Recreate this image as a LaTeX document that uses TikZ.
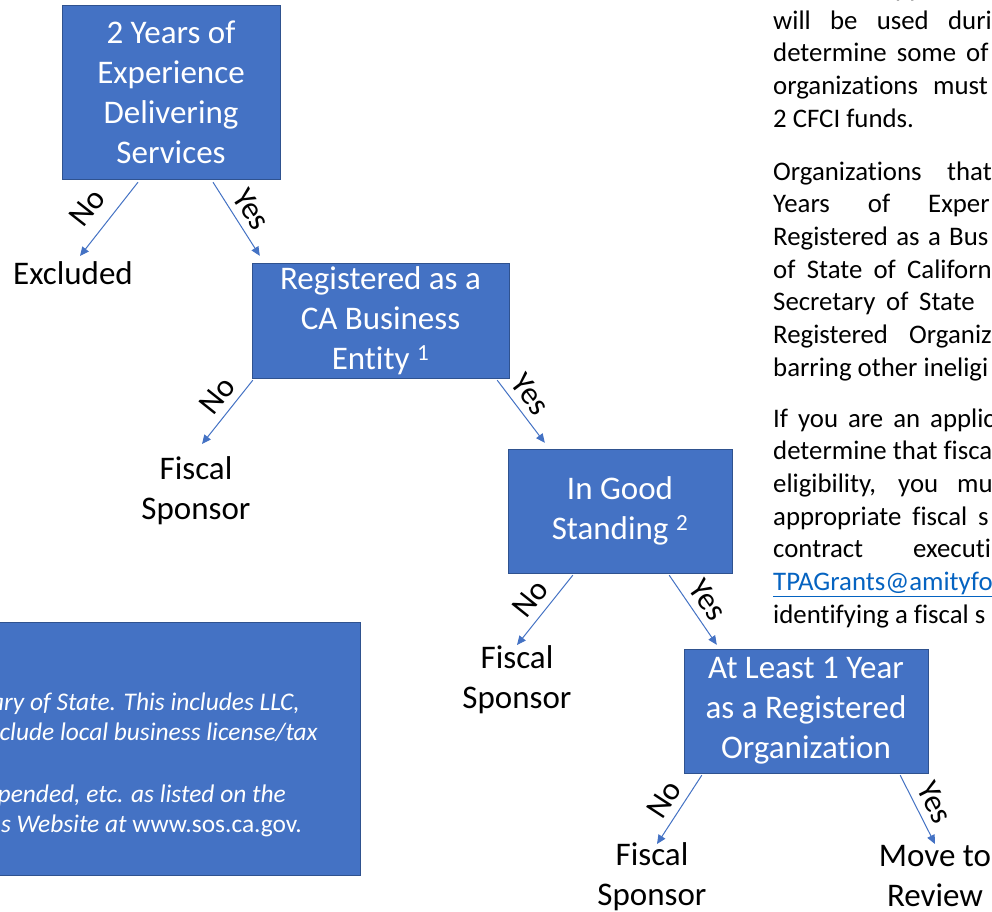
\documentclass[tikz,border=0pt]{standalone}
\usepackage{fontspec}
\setmainfont{Carlito}[Ligatures=NoCommon]
\usetikzlibrary{arrows.meta,calc}
\definecolor{boxblue}{RGB}{68,114,196}
\definecolor{boxedge}{RGB}{47,82,143}
\definecolor{linkblue}{RGB}{5,99,193}
\newcommand{\paraline}[3]{\node[bodytext] (#1) at (773,#2) {#3};}
\newcommand{\spreadline}[4]{\node[bodytext] (#1) at (773,#2) {\makebox[#3pt][s]{#4}};}
\tikzset{
  decision/.style={draw=boxedge, fill=boxblue, text=white, align=center,
    font=\fontsize{33}{40}\selectfont, inner sep=0pt},
  outcome/.style={align=center, font=\fontsize{33}{40}\selectfont, inner sep=0pt},
  arr/.style={draw=boxblue, line width=1pt, -{Triangle[length=9pt,width=8pt]}},
  yesno/.style={font=\fontsize{32}{38}\selectfont, sloped, above, inner sep=0pt,
    outer sep=8pt, text depth=0pt},
  bodytext/.style={font=\fontsize{26.8}{32.7}\selectfont, inner sep=0pt, anchor=base west},
  notetext/.style={font=\fontsize{25.4}{31}\selectfont\itshape, text=white,
    inner sep=0pt, anchor=base east}
}

\begin{document}
\begin{tikzpicture}[x=1pt,y=-1pt]
\useasboundingbox (0,0) rectangle (992,911);
\fill[white] (0,0) rectangle (992,911);
\clip (0,0) rectangle (992,911);
% decision boxes
\node[decision, minimum width=218, minimum height=174] (exp) at (171,92) {2 Years of\\Experience\\Delivering\\Services};
\node[decision, minimum width=257, minimum height=115] (reg) at (380.5,320.5) {Registered as a\\CA Business\\Entity \textsuperscript{1}};
\node[decision, minimum width=224, minimum height=124] (good) at (620,511) {In Good\\Standing \textsuperscript{2}};
\node[decision, minimum width=244, minimum height=124] (year) at (806,711) {At Least 1 Year\\as a Registered\\Organization};
% outcomes
\node[outcome] (excl) at (73,273) {Excluded};
\node[outcome] (fs1) at (196,491) {Fiscal\\Sponsor};
\node[outcome] (fs2) at (517,680) {Fiscal\\Sponsor};
\node[outcome] (fs3) at (652,877) {Fiscal\\Sponsor};
\node[outcome] (move) at (935,876) {Move to\\Review};
% arrows
\draw[arr] ($(exp.south)+(-33,3)$) -- node[yesno, pos=.55, outer sep=14pt] (no1) {No} ($(excl.center)+(7,-17)$);
\draw[arr] ($(exp.south)+(42,3)$) -- node[yesno] (yes1) {Yes} ($(reg.north west)+(8,-7)$);
\draw[arr] ($(reg.south west)+(1,2)$) -- node[yesno, pos=.42] (no2) {No} ($(fs1.center)+(6,-47)$);
\draw[arr] ($(reg.south east)+(-12,2)$) -- node[yesno, pos=.4] (yes2) {Yes} ($(good.north west)+(37,-6)$);
\draw[arr] ($(good.south west)+(65,2)$) -- node[yesno] (no3) {No} ($(fs2.center)+(0,-35)$);
\draw[arr] ($(good.south east)+(-63,2)$) -- node[yesno] (yes3) {Yes} ($(year.north west)+(33,-4)$);
\draw[arr] ($(year.south west)+(18,2)$) -- node[yesno] (no4) {No} ($(fs3.center)+(5,-33)$);
\draw[arr] ($(year.south east)+(-28,2)$) -- node[yesno, pos=.52] (yes4) {Yes} ($(move.center)+(0,-32)$);
% footnote box
\node[decision, minimum width=380, minimum height=253] (note) at (170,748.5) {};
\node[notetext] (n1) at (300,710) {ary of State. This includes LLC,};
\node[notetext] (n2) at (318,740) {clude local business license/tax};
\node[notetext] (n3) at (286,802) {pended, etc. as listed\ on the};
\node[notetext] (n4) at (302,832) {s Website at \upshape www.sos.ca.gov.};
% text on the right
\node[bodytext] (p0) at (895,-3.7) {pp};
\spreadline{p1}{29}{175}{will be used \rlap{duri}}
\spreadline{p2}{61.7}{193}{determine some \rlap{of}}
\spreadline{p3}{94.4}{160}{organizations \rlap{must}}
\paraline{p4}{127.1}{2 CFCI funds.}
\spreadline{q1}{180}{174}{Organizations \rlap{that}}
\spreadline{q2}{212.7}{155}{Years of \rlap{Exper}}
\spreadline{q3}{245.4}{176}{Registered as a \rlap{Bus}}
\spreadline{q4}{278.1}{134}{of State of \rlap{Californ}}
\spreadline{q5}{310.8}{146}{Secretary of \rlap{State}}
\spreadline{q6}{343.5}{136}{Registered \rlap{Organiz}}
\paraline{q7}{376.2}{barring other ineligi}
\spreadline{r1}{427}{157}{If you are an \rlap{applic}}
\paraline{r2}{459.7}{determine that fisca}
\spreadline{r3}{492.4}{184}{eligibility, you \rlap{mu}}
\spreadline{r4}{525.1}{205}{appropriate fiscal \rlap{s}}
\spreadline{r5}{557.8}{140}{contract \rlap{executi}}
\node[bodytext, text=linkblue] (r6) at (773,590.5) {\underline{TPAGrants@amityfo}};
\paraline{r7}{623.2}{identifying a fiscal s}
\end{tikzpicture}
\end{document}
